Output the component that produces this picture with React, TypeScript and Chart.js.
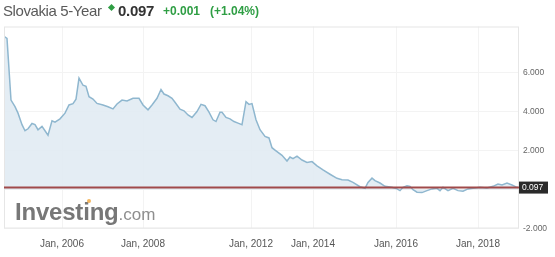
import React, { useEffect, useRef } from 'react';
import { Chart, registerables } from 'chart.js';

Chart.register(...registerables);

// Position of each reading along the (session-based, non-linear in time) x axis
const sessionIndex = [
  0, 3, 7, 11, 14, 18, 21, 24, 28, 31, 34, 38, 41, 44, 48, 51, 56, 61, 65, 69,
  72, 75, 79, 82, 85, 89, 93, 99, 104, 109, 113, 118, 123, 129, 135, 139, 144, 148, 153, 157,
  160, 164, 168, 171, 176, 180, 184, 188, 193, 197, 201, 205, 209, 212, 216, 218, 222, 226, 230, 234,
  238, 242, 245, 248, 252, 256, 261, 265, 268, 271, 278, 283, 286, 289, 293, 298, 303, 308, 313, 319,
  326, 333, 338, 344, 349, 356, 361, 364, 368, 371, 376, 381, 388, 393, 396, 399, 403, 406, 409, 413,
  418, 423, 428, 433, 436, 439, 444, 449, 454, 459, 464, 469, 476, 483, 489, 494, 498, 503, 508, 513, 515,
];

// Slovakia 5-Year yield (%)
const yieldValues = [
  7.84, 7.74, 4.58, 4.24, 3.91, 3.32, 3.01, 3.11, 3.38, 3.32, 3.06, 3.23, 3.01, 2.78, 3.52, 3.45, 3.62, 3.91, 4.33, 4.4,
  4.63, 5.71, 5.34, 5.29, 4.75, 4.63, 4.41, 4.33, 4.24, 4.13, 4.38, 4.58, 4.53, 4.67, 4.67, 4.33, 4.08, 4.33, 4.67, 5.12,
  4.89, 4.8, 4.67, 4.47, 4.11, 4.03, 3.82, 3.69, 3.99, 4.36, 4.29, 3.96, 3.57, 3.48, 3.96, 3.96, 3.69, 3.62, 3.48, 3.4,
  3.32, 4.5, 4.36, 4.4, 3.57, 3.06, 2.72, 2.64, 2.14, 2.02, 1.75, 1.46, 1.66, 1.58, 1.71, 1.51, 1.38, 1.43, 1.21, 1.0,
  0.78, 0.57, 0.5, 0.48, 0.36, 0.14, 0.06, 0.36, 0.58, 0.45, 0.33, 0.16, 0.11, 0.03, -0.06, 0.11, 0.19, 0.16, -0.01, -0.14,
  -0.16, -0.06, 0.03, 0.06, -0.06, 0.11, -0.06, 0.06, -0.06, -0.09, 0.03, 0.06, 0.11, 0.08, 0.16, 0.28, 0.23, 0.33, 0.23, 0.11, 0.1,
];

const lastValue = 0.097;
const xTickIndex = [58, 139, 247, 309, 392, 474];
const xTickLabels = ['Jan, 2006', 'Jan, 2008', 'Jan, 2012', 'Jan, 2014', 'Jan, 2016', 'Jan, 2018'];
const yTickValues = [-2, 0, 2, 4, 6];

const FONT = "'Liberation Sans', Arial, sans-serif";

const framePlugin = {
  id: 'frame',
  afterDraw(chart: any) {
    const { ctx, chartArea: a, scales } = chart;
    ctx.save();
    ctx.strokeStyle = '#e6e6e6';
    ctx.lineWidth = 1;
    ctx.strokeRect(a.left + 0.5, a.top + 0.5, a.right - a.left - 1, a.bottom - a.top - 1);
    const y = scales.y.getPixelForValue(lastValue);
    ctx.strokeStyle = '#a04a4a';
    ctx.lineWidth = 2;
    ctx.beginPath();
    ctx.moveTo(a.left, y);
    ctx.lineTo(a.right, y);
    ctx.stroke();
    ctx.fillStyle = '#2a2a2a';
    ctx.fillRect(a.right, y - 6, 29, 12);
    ctx.fillStyle = '#ffffff';
    ctx.font = `8.5px ${FONT}`;
    ctx.textBaseline = 'middle';
    ctx.textAlign = 'left';
    ctx.fillText(lastValue.toFixed(3), a.right + 3, y + 0.5);
    ctx.restore();
  },
};

export default function App() {
  const ref = useRef<HTMLCanvasElement | null>(null);

  useEffect(() => {
    document.body.style.margin = '0';
    const canvas = ref.current!;
    const chart = new Chart(canvas, {
      type: 'line',
      data: {
        datasets: [
          {
            data: sessionIndex.map((x, i) => ({ x, y: yieldValues[i] })),
            borderColor: '#8fb7cf',
            borderWidth: 1.5,
            backgroundColor: 'rgba(223,234,242,0.85)',
            fill: 'origin',
            pointRadius: 0,
            tension: 0,
          },
        ],
      },
      options: {
        animation: false,
        responsive: false,
        maintainAspectRatio: false,
        layout: { padding: { left: 4, top: 26.5, right: 0, bottom: 0 } },
        plugins: { legend: { display: false }, tooltip: { enabled: false } },
        scales: {
          x: {
            type: 'linear',
            min: 0,
            max: 515,
            position: 'bottom',
            afterBuildTicks: (s: any) => {
              s.ticks = xTickIndex.map((v) => ({ value: v }));
            },
            afterFit: (s: any) => {
              s.height = 28.5;
            },
            grid: { color: '#f3f3f3', drawTicks: false },
            border: { display: false },
            ticks: {
              padding: 10,
              autoSkip: false,
              maxRotation: 0,
              color: '#555',
              font: { family: FONT, size: 10 },
              callback: (v: any) => {
                const i = xTickIndex.indexOf(Number(v));
                return i >= 0 ? xTickLabels[i] : '';
              },
            },
          },
          y: {
            type: 'linear',
            position: 'right',
            min: -2,
            max: 8.35,
            afterBuildTicks: (s: any) => {
              s.ticks = yTickValues.map((v) => ({ value: v }));
            },
            afterFit: (s: any) => {
              s.width = 36;
            },
            grid: { color: '#f3f3f3', drawTicks: false },
            border: { display: false },
            ticks: {
              padding: 4,
              color: '#666',
              font: { family: FONT, size: 8.5 },
              callback: (v: any) => (Number(v) === 0 ? '' : Number(v).toFixed(3)),
            },
          },
        },
      },
      plugins: [framePlugin],
    });
    return () => chart.destroy();
  }, []);

  const span = (style: React.CSSProperties): React.CSSProperties => ({
    position: 'absolute',
    lineHeight: 1,
    whiteSpace: 'nowrap',
    fontFamily: FONT,
    ...style,
  });

  return (
    <div style={{ position: 'fixed', left: 0, top: 0, width: 555, height: 257, background: '#fff', overflow: 'hidden' }}>
      <canvas ref={ref} width={555} height={257} style={{ position: 'absolute', left: 0, top: 0, width: 555, height: 257 }} />
      <span style={span({ left: 3, top: 3, fontSize: 15, letterSpacing: -0.4, color: '#5a5a5a' })}>Slovakia 5-Year</span>
      <div
        style={{
          position: 'absolute',
          left: 109,
          top: 5,
          width: 5,
          height: 5,
          background: '#2f9e44',
          transform: 'rotate(45deg)',
        }}
      />
      <span style={span({ left: 118, top: 3, fontSize: 15, fontWeight: 'bold', color: '#333', letterSpacing: -0.3 })}>0.097</span>
      <span style={span({ left: 163, top: 5, fontSize: 12, fontWeight: 'bold', color: '#2f9e44' })}>+0.001</span>
      <span style={span({ left: 210, top: 5, fontSize: 12, fontWeight: 'bold', color: '#2f9e44' })}>(+1.04%)</span>
      <span style={span({ left: 15, top: 200, fontSize: 24, fontWeight: 'bold', color: '#777', letterSpacing: -0.2 })}>
        Investing
        <span style={{ fontSize: 17, fontWeight: 'normal', color: '#8e8e8e', letterSpacing: 0 }}>.com</span>
      </span>
      <div style={{ position: 'absolute', left: 87, top: 199, width: 4, height: 4, borderRadius: 2, background: '#f0a43a', opacity: 0.8 }} />
    </div>
  );
}
